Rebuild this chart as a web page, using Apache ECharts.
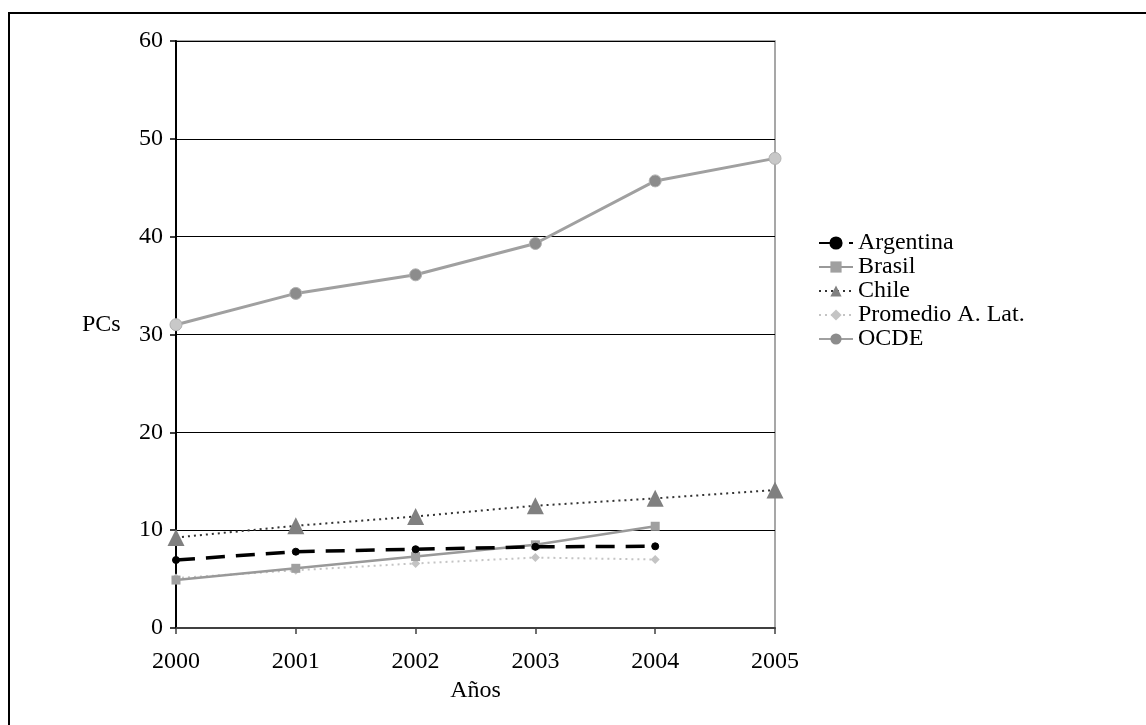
<!DOCTYPE html>
<html>
<head>
<meta charset="utf-8">
<script src="https://cdn.jsdelivr.net/npm/echarts@6/dist/echarts.min.js"></script>
<style>
html,body{margin:0;padding:0;background:#fff;}
#chart{width:1146px;height:725px;}
</style>
</head>
<body>
<div id="chart"></div>
<script>
const years = ['2000','2001','2002','2003','2004','2005'];
const argentina = [6.95, 7.8, 8.05, 8.3, 8.35, null];
const brasil = [4.9, 6.1, 7.3, 8.5, 10.4, null];
const chile = [9.25, 10.45, 11.4, 12.5, 13.25, 14.1];
const promedio = [5.1, 5.9, 6.6, 7.2, 7.0, null];
const ocde = [31.0, 34.2, 36.1, 39.3, 45.7, 48.0];
const yTicks = [0, 10, 20, 30, 40, 50, 60];

const FONT = '"Liberation Serif", "DejaVu Serif", serif';
const FS = 24;

const ocdeData = ocde.map(function (v, i) {
  const isEnd = (i === 0 || i === ocde.length - 1);
  return { value: v, itemStyle: { color: isEnd ? '#c8c8c8' : '#8c8c8c', borderColor: '#b0b0b0', borderWidth: 1 } };
});

const chart = echarts.init(document.getElementById('chart'), null, { renderer: 'canvas' });
chart.setOption({
  animation: false,
  backgroundColor: '#fff',
  textStyle: { fontFamily: FONT, color: '#000' },
  grid: { left: 176, right: 371, top: 41, bottom: 97, show: true, borderColor: '#8a8a8a', borderWidth: 1.5, backgroundColor: 'transparent' },
  legend: {
    orient: 'vertical', left: 818, top: 231, padding: 0,
    itemWidth: 34, itemHeight: 14, itemGap: 0,
    textStyle: { fontFamily: FONT, fontSize: FS, color: '#000', lineHeight: 24 },
    data: ['Argentina', 'Brasil', 'Chile', 'Promedio A. Lat.', 'OCDE']
  },
  xAxis: {
    type: 'category', data: years, boundaryGap: false,
    name: 'Años', nameLocation: 'middle', nameGap: 50,
    nameTextStyle: { fontFamily: FONT, fontSize: FS, color: '#000' },
    axisLine: { lineStyle: { color: '#404040', width: 2 } },
    axisTick: { show: true, alignWithLabel: true, length: 6, lineStyle: { color: '#404040', width: 1.5 } },
    axisLabel: { fontFamily: FONT, fontSize: FS, color: '#000', margin: 22 },
    splitLine: { show: false }
  },
  yAxis: {
    type: 'value', min: 0, max: 60, interval: 10,
    axisLine: { show: true, lineStyle: { color: '#000', width: 2 } },
    axisTick: { show: true, length: 6, lineStyle: { color: '#000', width: 1.5 } },
    axisLabel: { fontFamily: FONT, fontSize: FS, color: '#000', margin: 13,
      formatter: function (v) { return yTicks.indexOf(v) >= 0 ? String(v) : ''; } },
    splitLine: { show: true, lineStyle: { color: '#000', width: 1.2 } }
  },
  graphic: [
    { type: 'rect', silent: true, shape: { x: 9, y: 13, width: 1400, height: 1000 },
      style: { fill: 'none', stroke: '#000', lineWidth: 2 } },
    { type: 'text', silent: true, left: 82, top: 313,
      style: { text: 'PCs', font: FS + 'px ' + FONT, fill: '#000' } }
  ],
  series: [
    { name: 'Argentina', type: 'line', data: argentina, z: 5,
      symbol: 'circle', symbolSize: 7,
      lineStyle: { color: '#000', width: 3.5, type: [19, 11] },
      itemStyle: { color: '#000', borderColor: '#000', borderWidth: 1 } },
    { name: 'Brasil', type: 'line', data: brasil, z: 3,
      symbol: 'rect', symbolSize: 9,
      lineStyle: { color: '#999', width: 2.5 },
      itemStyle: { color: '#a0a0a0' } },
    { name: 'Chile', type: 'line', data: chile, z: 4,
      symbol: 'triangle', symbolSize: 17,
      lineStyle: { color: '#333', width: 2, type: [2, 4] },
      itemStyle: { color: '#808080' } },
    { name: 'Promedio A. Lat.', type: 'line', data: promedio, z: 2,
      symbol: 'diamond', symbolSize: 9,
      lineStyle: { color: '#c4c4c4', width: 2, type: [2, 4] },
      itemStyle: { color: '#c4c4c4' } },
    { name: 'OCDE', type: 'line', data: ocdeData, z: 4,
      symbol: 'circle', symbolSize: 12,
      lineStyle: { color: '#a0a0a0', width: 3 },
      itemStyle: { color: '#8c8c8c' } }
  ]
});
</script>
</body>
</html>
